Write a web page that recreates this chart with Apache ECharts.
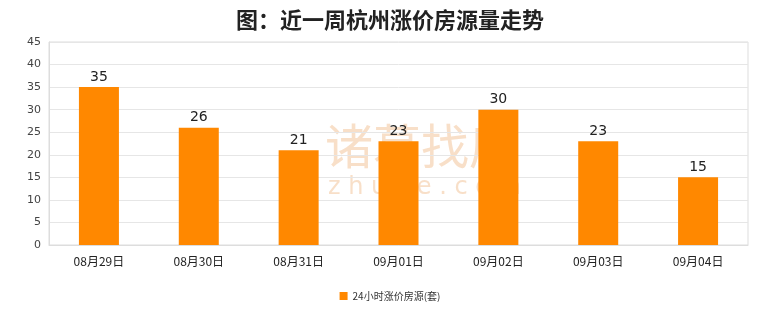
<!DOCTYPE html>
<html><head><meta charset="utf-8">
<script src="https://cdn.jsdelivr.net/npm/echarts@6/dist/echarts.min.js"></script>
<style>html,body{margin:0;padding:0;background:#fff}#c{width:780px;height:328px}</style>
</head><body><div id="c"></div>
<script>
const categories = ['08月29日','08月30日','08月31日','09月01日','09月02日','09月03日','09月04日'];
const values = [35, 26, 21, 23, 30, 23, 15];
const seriesName = '24小时涨价房源(套)';
const titleText = '图：近一周杭州涨价房源量走势';

const chart = echarts.init(document.getElementById('c'));
chart.setOption({
  animation: false,
  backgroundColor: '#fff',
  title: { text: titleText, left: 'center', top: 4,
    textStyle: { fontSize: 22, fontWeight: 'bold', color: '#222', fontFamily: 'Noto Sans CJK SC' } },
  graphic: [
    { type: 'text', left: 325, top: 122, z: 0, style: { text: '诸葛找房', fontSize: 48, fontWeight: 'normal', fill: 'rgba(246,212,182,0.75)', fontFamily: 'Noto Sans CJK SC' } },
    { type: 'text', left: 328, top: 176, z: 0, style: { text: 'z h u g e . c o m', fontSize: 24, fill: 'rgba(246,212,182,0.75)', fontFamily: 'DejaVu Sans' } }
  ],
  grid: { left: 49, right: 32, top: 42, bottom: 83, show: true, borderColor: '#ddd', borderWidth: 1, backgroundColor: 'transparent' },
  legend: { bottom: 22, left: 'center', itemWidth: 8, itemHeight: 8, icon: 'rect',
    data: [seriesName],
    textStyle: { fontSize: 10, color: '#333', fontFamily: 'SimSun, Noto Sans CJK SC' } },
  xAxis: { type: 'category', data: categories,
    axisLine: { lineStyle: { color: '#ddd' } }, axisTick: { show: false },
    axisLabel: { color: '#222', fontSize: 12, margin: 10, fontFamily: 'Noto Sans CJK SC' } },
  yAxis: { type: 'value', min: 0, max: 45, interval: 5,
    axisLine: { show: true, lineStyle: { color: '#ddd' } }, axisTick: { show: false },
    splitLine: { lineStyle: { color: '#e6e6e6' } },
    axisLabel: { color: '#444', fontSize: 11, fontFamily: 'DejaVu Sans' } },
  series: [{ name: seriesName, type: 'bar', data: values, barWidth: 40, z: 5,
    itemStyle: { color: '#FF8800' },
    label: { show: true, position: 'top', fontSize: 14, color: '#222', distance: 3, fontFamily: 'DejaVu Sans' } }]
});
</script></body></html>
